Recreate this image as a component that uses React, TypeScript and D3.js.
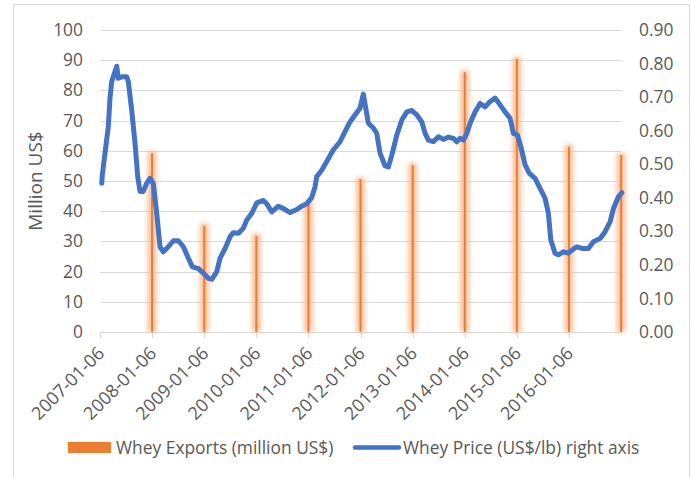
import React from "react";
import * as d3 from "d3";

const exportDates = ["2008-01-06","2009-01-06","2010-01-06","2011-01-06","2012-01-06","2013-01-06","2014-01-06","2015-01-06","2016-01-06","2017-01-06"];
const exportValues = [59.2, 35.2, 31.9, 43, 50.6, 55.3, 86, 90.4, 61.4, 58.6];

const tickLabels = ["2007-01-06","2008-01-06","2009-01-06","2010-01-06","2011-01-06","2012-01-06","2013-01-06","2014-01-06","2015-01-06","2016-01-06"];

const priceYears = [2007.047,2007.058,2007.173,2007.206,2007.239,2007.269,2007.335,2007.365,2007.431,2007.526,2007.557,2007.622,2007.686,2007.738,2007.782,2007.845,2007.910,2007.974,2008.037,2008.102,2008.166,2008.229,2008.325,2008.421,2008.517,2008.613,2008.709,2008.786,2008.901,2008.997,2009.093,2009.158,2009.254,2009.317,2009.413,2009.509,2009.573,2009.668,2009.764,2009.830,2009.926,2010.022,2010.148,2010.214,2010.310,2010.436,2010.532,2010.661,2010.790,2010.885,2010.981,2011.077,2011.141,2011.173,2011.269,2011.365,2011.492,2011.620,2011.716,2011.812,2011.908,2012.004,2012.068,2012.120,2012.164,2012.260,2012.325,2012.388,2012.484,2012.548,2012.613,2012.709,2012.805,2012.901,2012.997,2013.093,2013.189,2013.252,2013.315,2013.411,2013.507,2013.603,2013.699,2013.795,2013.860,2013.924,2013.987,2014.052,2014.116,2014.212,2014.308,2014.404,2014.500,2014.595,2014.691,2014.787,2014.883,2014.947,2015.024,2015.089,2015.172,2015.254,2015.364,2015.459,2015.555,2015.619,2015.665,2015.747,2015.811,2015.907,2016.003,2016.099,2016.164,2016.260,2016.387,2016.482,2016.611,2016.707,2016.803,2016.866,2016.962,2017.027];
const priceValues = [0.443,0.468,0.612,0.698,0.747,0.761,0.792,0.756,0.761,0.761,0.747,0.662,0.563,0.463,0.419,0.419,0.443,0.458,0.443,0.354,0.254,0.239,0.254,0.272,0.272,0.254,0.220,0.194,0.189,0.175,0.160,0.157,0.180,0.220,0.249,0.284,0.296,0.294,0.309,0.334,0.354,0.385,0.392,0.382,0.358,0.375,0.368,0.356,0.365,0.375,0.382,0.401,0.433,0.463,0.482,0.508,0.543,0.567,0.597,0.626,0.647,0.667,0.709,0.662,0.622,0.608,0.592,0.533,0.495,0.492,0.527,0.587,0.632,0.656,0.660,0.647,0.626,0.592,0.572,0.567,0.582,0.574,0.581,0.577,0.567,0.577,0.572,0.592,0.622,0.656,0.681,0.671,0.687,0.697,0.677,0.656,0.637,0.592,0.587,0.553,0.498,0.473,0.458,0.428,0.399,0.354,0.275,0.235,0.230,0.239,0.235,0.247,0.254,0.249,0.249,0.269,0.279,0.299,0.329,0.368,0.403,0.415];

const leftTicks = [0,10,20,30,40,50,60,70,80,90,100];
const rightTicks = [0,0.1,0.2,0.3,0.4,0.5,0.6,0.7,0.8,0.9];

const parse = d3.timeParse("%Y-%m-%d");
function decYear(y: number): Date {
  const yr = Math.floor(y);
  const start = new Date(yr, 0, 1).getTime();
  const end = new Date(yr + 1, 0, 1).getTime();
  return new Date(start + (y - yr) * (end - start));
}

const W = 692, H = 477;
const L = 100, R = 622, T = 30, B = 332;
const FONT = "'Open Sans', Lato, sans-serif";
const FS = 17.4;
const TXT = "#595959";
const ORANGE = "#ED7D31";
const BLUE = "#4472C4";

export default function App() {
  const x = d3.scaleTime().domain([parse("2007-01-06")!, parse("2017-01-12")!]).range([L, R]);
  const yL = d3.scaleLinear().domain([0, 100]).range([B, T]);
  const yR = d3.scaleLinear().domain([0, 0.9]).range([B, T]);
  const line = d3.line<number>()
    .x((_, i) => x(decYear(priceYears[i])))
    .y((d) => yR(d));
  const pathD = line(priceValues) || "";

  return (
    <svg width={W} height={H} style={{ position: "absolute", left: 0, top: 0, background: "#fff" }} fontFamily={FONT}>
      <defs>
        <filter id="glow" x="-300%" y="-20%" width="700%" height="140%">
          <feGaussianBlur stdDeviation="2.2" />
        </filter>
      </defs>
      <rect x={0} y={0} width={W} height={H} fill="#fff" />
      <path d={`M13.5,${H} V4.5 H689.5 V${H}`} fill="none" stroke="#d9d9d9" strokeWidth={1} />
      {leftTicks.slice(1).map((t) => (
        <line key={t} x1={L} x2={R} y1={Math.round(yL(t)) + 0.5} y2={Math.round(yL(t)) + 0.5} stroke="#d9d9d9" strokeWidth={1} />
      ))}
      <line x1={L} x2={R} y1={B + 0.5} y2={B + 0.5} stroke="#d9d9d9" strokeWidth={1} />
      {tickLabels.map((s) => {
        const px = Math.round(x(parse(s)!)) + 0.5;
        return <line key={"tk" + s} x1={px} x2={px} y1={B} y2={B + 6} stroke="#d9d9d9" />;
      })}
      {exportDates.map((s, i) => {
        const px = x(parse(s)!);
        const top = yL(exportValues[i]);
        return (
          <g key={"b" + s}>
            <rect x={px - 4.5} y={top - 2} width={9} height={B - top + 2} fill="#F6B88F" opacity={0.85} filter="url(#glow)" />
            <rect x={px - 1} y={top} width={2} height={B - top} fill={ORANGE} />
          </g>
        );
      })}
      <path d={pathD} fill="none" stroke={BLUE} strokeWidth={5} strokeLinejoin="round" strokeLinecap="round" />
      {leftTicks.map((t) => (
        <text key={"l" + t} x={83} y={yL(t)} dy="0.35em" textAnchor="end" fontSize={FS} fill={TXT}>{t}</text>
      ))}
      {rightTicks.map((t) => (
        <text key={"r" + t} x={639} y={yR(t)} dy="0.35em" textAnchor="start" fontSize={FS} fill={TXT}>{t.toFixed(2)}</text>
      ))}
      {tickLabels.map((s) => {
        const px = x(parse(s)!);
        return (
          <text key={"x" + s} transform={`translate(${px + 1},${B + 18}) rotate(-45)`} textAnchor="end" dy="0.35em" fontSize={18} fill={TXT}>{s}</text>
        );
      })}
      <text transform={`translate(35,${(T + B) / 2}) rotate(-90)`} textAnchor="middle" dy="0.35em" fontSize={19} fill={TXT}>Million US$</text>
      <rect x={68} y={442} width={43} height={11} fill={ORANGE} />
      <text x={116} y={447.5} dy="0.35em" fontSize={FS} fill={TXT}>Whey Exports (million US$)</text>
      <line x1={355} x2={399} y1={447.5} y2={447.5} stroke={BLUE} strokeWidth={4.5} strokeLinecap="round" />
      <text x={403} y={447.5} dy="0.35em" fontSize={FS} fill={TXT}>Whey Price (US$/lb) right axis</text>
    </svg>
  );
}
